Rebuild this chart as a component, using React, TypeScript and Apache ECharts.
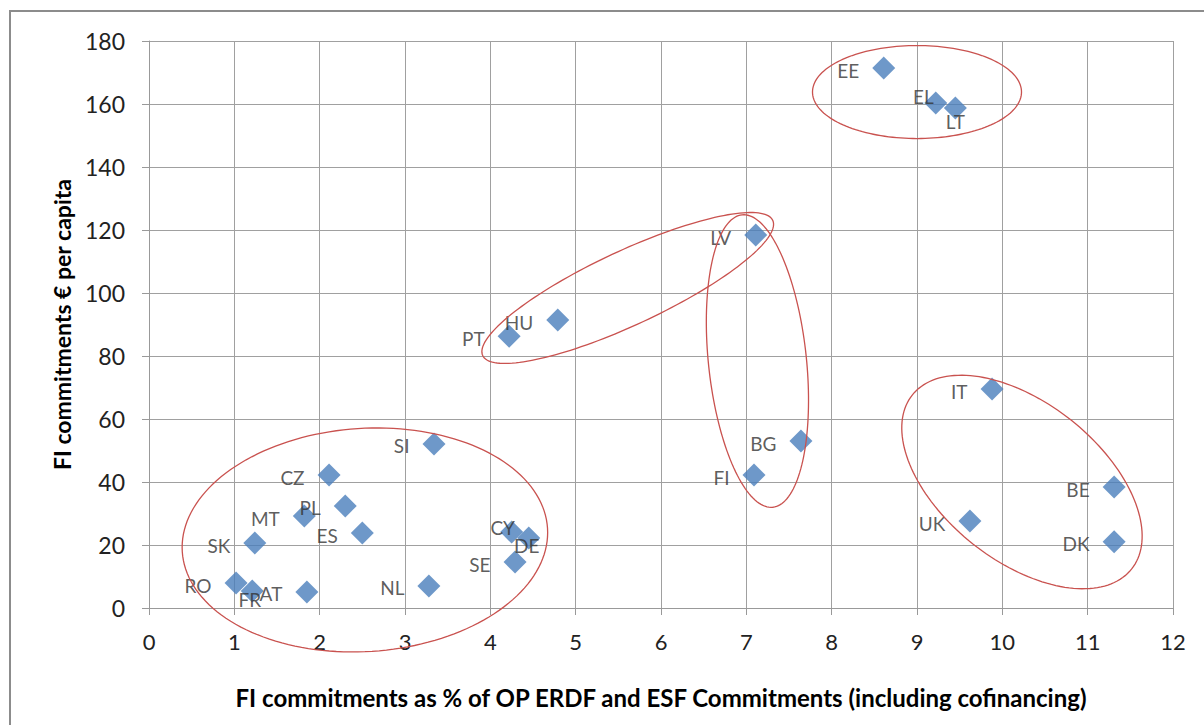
import React, { useEffect, useRef } from "react";
import * as echarts from "echarts";

const countries = ["EE", "EL", "LT", "LV", "HU", "PT", "IT", "BG", "FI", "BE", "UK", "DK", "SI", "CZ", "PL", "MT", "ES", "SK", "CY", "DE", "SE", "NL", "RO", "FR", "AT"];
const xValues = [8.61, 9.22, 9.45, 7.11, 4.79, 4.22, 9.88, 7.64, 7.09, 11.31, 9.62, 11.31, 3.34, 2.11, 2.3, 1.82, 2.5, 1.24, 4.25, 4.45, 4.29, 3.28, 1.02, 1.21, 1.85];
const yValues = [171.4, 160.3, 158.7, 118.4, 91.4, 86.3, 69.5, 53.0, 42.2, 38.4, 27.6, 21.0, 52.1, 42.2, 32.4, 29.2, 23.8, 20.6, 24.1, 22.2, 14.6, 7.0, 7.9, 5.4, 5.1];

// group ellipses: centres in data units
const ellipseX = [9.0, 5.61, 7.13, 10.23, 2.53];
const ellipseY = [163.8, 101.6, 78.4, 40.0, 21.6];

// ellipse sizes (px) and rotation (deg) — styling
const ellipseStyle = [
  { a: 104.5, b: 46.5, rot: 0 },
  { a: 160, b: 37, rot: 25 },
  { a: 147, b: 49, rot: 96 },
  { a: 140, b: 79, rot: -38.4 },
  { a: 183, b: 111.6, rot: 3.7 },
];

// manually placed labels (offsets from marker centre, px)
const labelOverrides: Record<string, [number, number]> = {
  EL: [-12.5, -6.5],
  LT: [0, 13.5],
  FR: [-2.5, 8.5],
  DE: [-2, 7],
  CY: [-9, -5],
};

const FONT = "Lato, 'Noto Sans', sans-serif";

export default function App() {
  const ref = useRef<HTMLDivElement>(null);
  useEffect(() => {
    if (!ref.current) return;
    const chart = echarts.init(ref.current, undefined, { renderer: "svg" });
    const scatterData = countries.map((c, i) => {
      const o = labelOverrides[c];
      const item: any = { name: c, value: [xValues[i], yValues[i]] };
      if (o) {
        item.label = { position: "inside", offset: o, distance: 0 };
      }
      return item;
    });
    const ellipseData = ellipseX.map((x, i) => [x, ellipseY[i]]);
    chart.setOption({
      animation: false,
      backgroundColor: "#ffffff",
      textStyle: { fontFamily: FONT },
      grid: { left: 149, right: 31, top: 41, bottom: 117, containLabel: false, outerBoundsMode: "none" },
      graphic: [
        {
          type: "rect",
          silent: true,
          z: -10,
          shape: { x: 10, y: 11, width: 1300, height: 900 },
          style: { fill: "none", stroke: "#8c8c8c", lineWidth: 2 },
        },
      ],
      xAxis: {
        type: "value",
        min: 0,
        max: 12,
        interval: 1,
        name: "FI commitments as % of OP ERDF and ESF Commitments (including cofinancing)",
        nameLocation: "middle",
        nameGap: 77,
        nameTextStyle: { fontFamily: FONT, fontSize: 24, fontWeight: "bold", color: "#000" },
        axisLine: { show: true, lineStyle: { color: "#999", width: 1 } },
        axisTick: { show: true, length: 7, lineStyle: { color: "#999" } },
        axisLabel: { margin: 22, fontSize: 22, color: "#222", fontFamily: FONT },
        splitLine: { show: true, lineStyle: { color: "#a0a0a0", width: 1 } },
      },
      yAxis: {
        type: "value",
        min: 0,
        max: 180,
        interval: 20,
        name: "FI commitments € per capita",
        nameLocation: "middle",
        nameGap: 76,
        nameRotate: 90,
        nameTextStyle: { fontFamily: FONT, fontSize: 23, fontWeight: "bold", color: "#000" },
        axisLine: { show: true, lineStyle: { color: "#999", width: 1 } },
        axisTick: { show: true, length: 7, lineStyle: { color: "#999" } },
        axisLabel: { margin: 24, fontSize: 23, color: "#222", fontFamily: FONT },
        splitLine: { show: true, lineStyle: { color: "#a0a0a0", width: 1 } },
      },
      series: [
        {
          type: "scatter",
          symbol: "diamond",
          symbolSize: 23,
          itemStyle: { color: "#4a7ebb" },
          z: 3,
          label: {
            show: true,
            position: "left",
            distance: 13,
            offset: [0, 2],
            formatter: "{b}",
            fontSize: 19,
            color: "#333",
            fontFamily: FONT,
          },
          data: scatterData,
        },
        {
          type: "custom",
          z: 5,
          silent: true,
          clip: false,
          data: ellipseData,
          renderItem: (params: any, api: any) => {
            const c = api.coord([api.value(0), api.value(1)]);
            const e = ellipseStyle[params.dataIndex];
            const phi = (e.rot * Math.PI) / 180;
            const pts: number[][] = [];
            const N = 160;
            for (let k = 0; k < N; k++) {
              const t = (k / N) * Math.PI * 2;
              const ux = e.a * Math.cos(t);
              const vy = e.b * Math.sin(t);
              pts.push([
                c[0] + ux * Math.cos(phi) - vy * Math.sin(phi),
                c[1] - (ux * Math.sin(phi) + vy * Math.cos(phi)),
              ]);
            }
            return {
              type: "polygon",
              shape: { points: pts },
              style: { fill: "none", stroke: "#c9524f", lineWidth: 1.3 },
            };
          },
        },
      ],
    });
    return () => chart.dispose();
  }, []);
  return (
    <div
      ref={ref}
      style={{ position: "fixed", left: 0, top: 0, width: 1204, height: 725 }}
    />
  );
}
